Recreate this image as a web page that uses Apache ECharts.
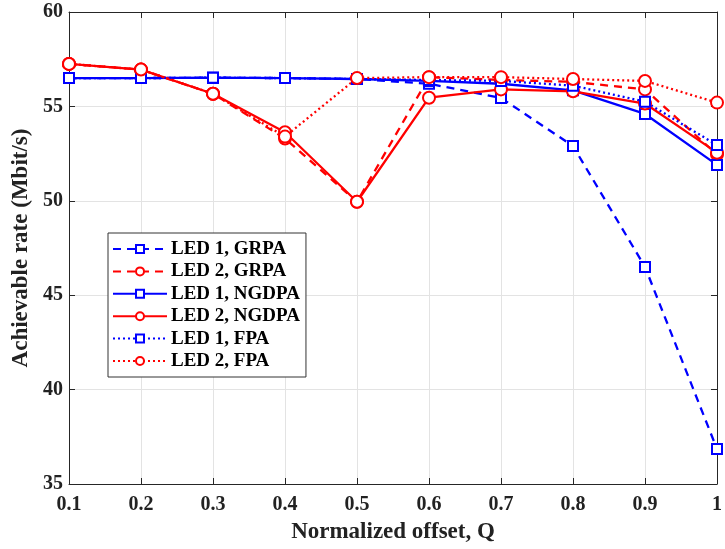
<!DOCTYPE html>
<html>
<head>
<meta charset="utf-8">
<script src="https://cdn.jsdelivr.net/npm/echarts@6/dist/echarts.min.js"></script>
<style>html,body{margin:0;padding:0;background:#fff}#c{width:725px;height:549px}</style>
</head>
<body>
<div id="c"></div>
<script>
const categories = ['0.1','0.2','0.3','0.4','0.5','0.6','0.7','0.8','0.9','1'];
const led1GRPA  = [56.5, 56.5, 56.52, 56.5, 56.45, 56.2, 55.45, 52.9, 46.5, 36.85];
const led2GRPA  = [57.25, 56.95, 55.67, 53.3, 49.95, 56.55, 56.4, 56.3, 55.9, 52.45];
const led1NGDPA = [56.5, 56.5, 56.52, 56.5, 56.45, 56.35, 56.2, 55.85, 54.6, 51.9];
const led2NGDPA = [57.25, 56.95, 55.67, 53.63, 49.95, 55.46, 55.9, 55.8, 55.15, 52.55];
const led1FPA   = [56.5, 56.5, 56.52, 56.5, 56.45, 56.4, 56.35, 56.1, 55.25, 52.95];
const led2FPA   = [57.25, 56.95, 55.67, 53.4, 56.5, 56.55, 56.55, 56.45, 56.35, 55.2];
const yTicks = [35, 40, 45, 50, 55, 60];

const BLUE = '#0000ff', RED = '#ff0000';
const FONT = '"Liberation Serif", "Times New Roman", serif';
function mk(name, data, color, dash, symbol, size) {
  return {
    name, type: 'line', data, symbol, symbolSize: size, showSymbol: true,
    lineStyle: { color, width: 2.3, type: dash },
    itemStyle: { color: '#fff', borderColor: color, borderWidth: 2 },
    emphasis: { disabled: true }, animation: false, z: 3
  };
}
const series = [
  mk('LED 1, GRPA', led1GRPA, BLUE, [8, 6], 'rect', 10),
  mk('LED 2, GRPA', led2GRPA, RED, [8, 6], 'circle', 12),
  mk('LED 1, NGDPA', led1NGDPA, BLUE, 'solid', 'rect', 10),
  mk('LED 2, NGDPA', led2NGDPA, RED, 'solid', 'circle', 12),
  mk('LED 1, FPA', led1FPA, BLUE, [2, 3], 'rect', 10),
  mk('LED 2, FPA', led2FPA, RED, [2, 3], 'circle', 12)
];
const axisColor = '#262626';
const chart = echarts.init(document.getElementById('c'), null, { renderer: 'canvas' });
chart.setOption({
  backgroundColor: '#fff',
  animation: false,
  grid: { left: 69, right: 1, top: 12, bottom: 65, containLabel: false },
  legend: {
    left: 108, top: 233, orient: 'vertical',
    backgroundColor: '#fff', borderColor: '#333', borderWidth: 1,
    padding: [5, 6, 5, 4], itemGap: 0.4, itemWidth: 54, itemHeight: 10,
    textStyle: { fontFamily: FONT, fontWeight: 'bold', fontSize: 19, lineHeight: 22, color: '#000', padding: [0, 0, 0, -1] },
    data: series.map(s => s.name)
  },
  xAxis: [{
    type: 'category', data: categories, boundaryGap: false,
    name: 'Normalized offset, Q', nameLocation: 'middle', nameGap: 37,
    nameTextStyle: { fontFamily: FONT, fontWeight: 'bold', fontSize: 23, color: '#222' },
    axisLine: { lineStyle: { color: axisColor, width: 1 } },
    axisTick: { inside: true, length: 6, alignWithLabel: true, lineStyle: { color: axisColor } },
    axisLabel: { fontFamily: FONT, fontWeight: 'bold', fontSize: 20, color: '#222', margin: 11, interval: 0 },
    splitLine: { show: true, lineStyle: { color: '#e3e3e3', width: 1 } }
  }, {
    type: 'category', data: categories, boundaryGap: false, position: 'top',
    axisLine: { lineStyle: { color: axisColor, width: 1 } },
    axisTick: { inside: true, length: 6, lineStyle: { color: axisColor } },
    axisLabel: { show: false }, splitLine: { show: false }
  }],
  yAxis: [{
    type: 'value', min: 35, max: 60, interval: 5,
    name: 'Achievable rate (Mbit/s)', nameLocation: 'middle', nameGap: 36,
    nameTextStyle: { fontFamily: FONT, fontWeight: 'bold', fontSize: 23, color: '#222' },
    axisLine: { show: true, lineStyle: { color: axisColor, width: 1 } },
    axisTick: { show: true, inside: true, length: 6, lineStyle: { color: axisColor } },
    axisLabel: { fontFamily: FONT, fontWeight: 'bold', fontSize: 20, color: '#222', margin: 6,
      formatter: v => yTicks.includes(v) ? String(v) : '' },
    splitLine: { show: true, lineStyle: { color: '#e3e3e3', width: 1 } }
  }, {
    type: 'value', min: 35, max: 60, interval: 5, position: 'right',
    axisLine: { show: true, lineStyle: { color: axisColor, width: 1 } },
    axisTick: { show: true, inside: true, length: 6, lineStyle: { color: axisColor } },
    axisLabel: { show: false }, splitLine: { show: false }
  }],
  series
});
</script>
</body>
</html>
